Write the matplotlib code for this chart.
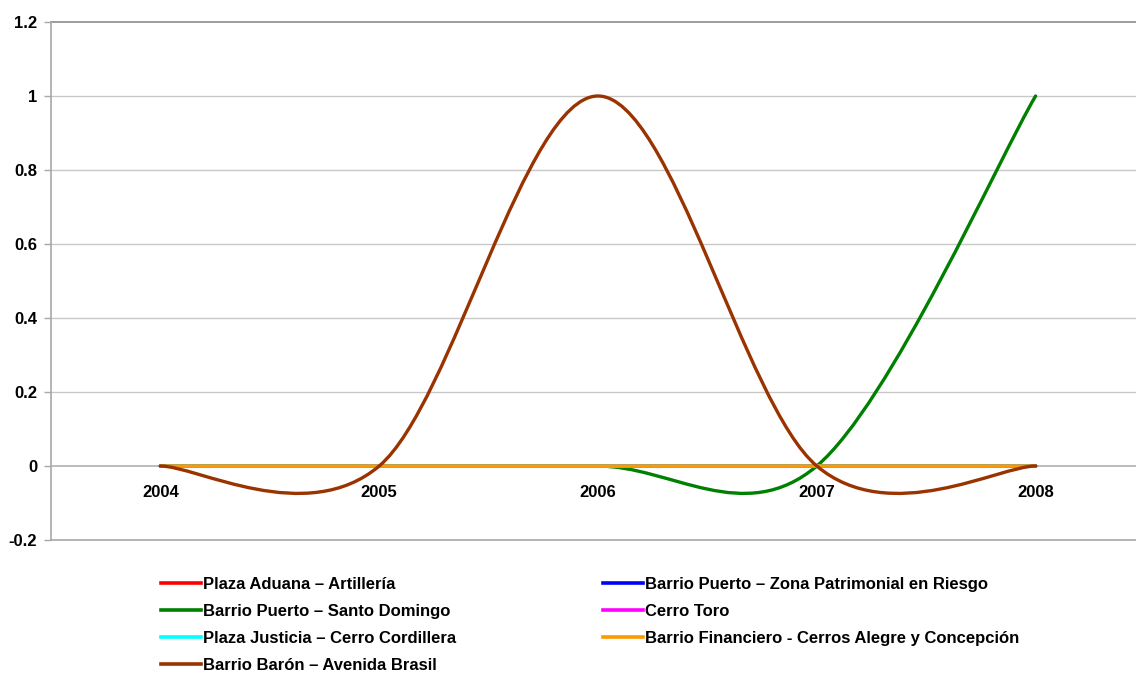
import matplotlib
matplotlib.use("Agg")
import matplotlib.pyplot as plt
from matplotlib.path import Path
from matplotlib.patches import PathPatch
from matplotlib.lines import Line2D

plt.rcParams["font.family"] = ["Liberation Sans", "DejaVu Sans"]
plt.rcParams["font.weight"] = "bold"

years = ["2004", "2005", "2006", "2007", "2008"]

plaza_aduana = [0, 0, 0, 0, 0]
barrio_puerto_zona = [0, 0, 0, 0, 0]
barrio_puerto_sd = [0, 0, 0, 0, 1]
cerro_toro = [0, 0, 0, 0, 0]
plaza_justicia = [0, 0, 0, 0, 0]
barrio_financiero = [0, 0, 0, 0, 0]
barrio_baron = [0, 0, 1, 0, 0]

series = [
    ("Plaza Aduana \u2013 Artillería", plaza_aduana, "#FF0000"),
    ("Barrio Puerto \u2013 Zona Patrimonial en Riesgo", barrio_puerto_zona, "#0000FF"),
    ("Barrio Puerto \u2013 Santo Domingo", barrio_puerto_sd, "#008000"),
    ("Cerro Toro", cerro_toro, "#FF00FF"),
    ("Plaza Justicia \u2013 Cerro Cordillera", plaza_justicia, "#00FFFF"),
    ("Barrio Financiero - Cerros Alegre y Concepción", barrio_financiero, "#FF9900"),
    ("Barrio Barón \u2013 Avenida Brasil", barrio_baron, "#993300"),
]


def smooth_path(xs, ys):
    """Cubic Bezier path through the points (Catmull-Rom style, 1/6 tangents)."""
    pts = list(zip(xs, ys))
    n = len(pts)
    verts = [pts[0]]
    codes = [Path.MOVETO]
    for i in range(n - 1):
        p0 = pts[i - 1] if i > 0 else pts[i]
        p1 = pts[i]
        p2 = pts[i + 1]
        p3 = pts[i + 2] if i + 2 < n else pts[i + 1]
        c1 = (p1[0] + (p2[0] - p0[0]) / 6, p1[1] + (p2[1] - p0[1]) / 6)
        c2 = (p2[0] - (p3[0] - p1[0]) / 6, p2[1] - (p3[1] - p1[1]) / 6)
        verts += [c1, c2, p2]
        codes += [Path.CURVE4] * 3
    return Path(verts, codes)


fig = plt.figure(figsize=(11.36, 6.76), dpi=100)
ax = fig.add_axes([51 / 1136, 136 / 676, 1094 / 1136, 518 / 676])

x = list(range(len(years)))
handles = []
for label, vals, color in series:
    patch = PathPatch(smooth_path(x, vals), facecolor="none", edgecolor=color,
                      linewidth=2.4, capstyle="round", joinstyle="round", zorder=3)
    ax.add_patch(patch)
    handles.append(Line2D([0], [0], color=color, linewidth=2.6, label=label))

ax.set_xlim(-0.5, 4.5)
ax.set_ylim(-0.2, 1.2)
ax.set_yticks([-0.2, 0, 0.2, 0.4, 0.6, 0.8, 1, 1.2])
ax.set_yticklabels(["-0.2", "0", "0.2", "0.4", "0.6", "0.8", "1", "1.2"])
ax.set_xticks(x)
ax.set_xticklabels(years)

# horizontal gridlines, darker frame lines at the ends of the value axis
for v in [0.2, 0.4, 0.6, 0.8, 1.0]:
    ax.axhline(v, color="#c8c8c8", linewidth=1.0, zorder=1)
ax.axhline(1.2, color="#8c8c8c", linewidth=1.2, zorder=1, clip_on=False)
ax.axhline(-0.2, color="#a8a8a8", linewidth=1.2, zorder=1, clip_on=False)

for side in ["top", "right"]:
    ax.spines[side].set_visible(False)
ax.spines["left"].set_color("#a8a8a8")
ax.spines["left"].set_linewidth(1.2)
ax.spines["bottom"].set_position(("data", 0))
ax.spines["bottom"].set_color("#b0b0b0")
ax.spines["bottom"].set_linewidth(1.2)

ax.tick_params(axis="y", length=5, width=1.0, color="#a8a8a8", labelsize=12, pad=5)
ax.tick_params(axis="x", length=0, labelsize=12, pad=14)

# legend: two columns, filled row by row
legend_kw = dict(loc="upper left", frameon=False, fontsize=12, handlelength=2.4,
                 handletextpad=0.1, labelspacing=0.72, borderpad=0, borderaxespad=0)
left_col = [handles[i] for i in (0, 2, 4, 6)]
right_col = [handles[i] for i in (1, 3, 5)]
fig.legend(left_col, [h.get_label() for h in left_col],
           bbox_to_anchor=(161 / 1136, 1 - 577 / 676), **legend_kw)
fig.legend(right_col, [h.get_label() for h in right_col],
           bbox_to_anchor=(603 / 1136, 1 - 577 / 676), **legend_kw)

fig.savefig("out.png", dpi=100, facecolor="white")
